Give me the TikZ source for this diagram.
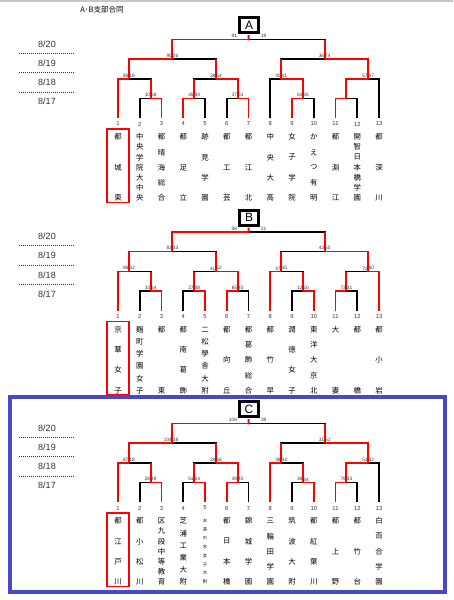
\documentclass[tikz,border=0pt]{standalone}
\usepackage{fontspec}
\setmainfont{Liberation Sans}
\newfontfamily\jp{Noto Sans CJK JP}
\usetikzlibrary{calc}
\definecolor{wred}{HTML}{FF0000}
\definecolor{ink}{HTML}{333333}
\definecolor{rim}{HTML}{4848CC}
\tikzset{lose/.style={draw=black, line width=1.9pt},
         win/.style={draw=wred, line width=1.9pt},
         score/.style={font=\fontsize{4.8}{5}\selectfont, text=ink, inner sep=0.3pt, yshift=1pt},
         tnum/.style={font=\fontsize{5.8}{6}\selectfont, text=ink, inner sep=0pt},
         tname/.style={font=\jp\fontsize{7.4}{7.4}\selectfont, inner sep=0pt},
         day/.style={font=\fontsize{9}{10}\selectfont, text=ink, inner sep=0pt},
         dayline/.style={draw=ink, line width=0.8pt, dash pattern=on 1.4pt off 0.6pt},
         lbox/.style={draw, line width=3pt, fill=white, minimum width=19pt, minimum height=15pt, inner sep=0pt, font=\fontsize{12}{12}\selectfont}}
\newcommand\sm{\fontsize{4.4}{5}\selectfont}

% #1 block, #2 shift, #3 red edges, #4 scores, #5 names, #6/#7 final score
\newcommand\bracket[7]{%
\begin{scope}[shift={(0,#2)}]
% dates
\foreach \d [count=\k] in {20,19,18,17} \node[day] (#1-day\k) at (47,{44+19.2*(\k-1)}) {8/\d};
\foreach \k in {1,2,3} \draw[dayline] (19,{53.3+19.5*(\k-1)}) -- (75,{53.3+19.5*(\k-1)});
% teams and matches
\foreach \i in {1,...,13} \coordinate (#1-t\i) at ({118+21.75*(\i-1)},118);
\foreach \m/\px/\py in {r23/150.6/98.5, r45/194.1/98.5, r67/237.6/98.5, r910/302.9/98.5, r1112/346.4/98.5,
  q1/128.9/79, q2/215.9/79, q3/281.1/79, q4/368.1/79, s1/172.4/59, s2/324.6/59, f/248.5/39.5}
  \coordinate (#1-\m) at (\px,\py);
\foreach \c/\p in {t2/r23,t3/r23,t4/r45,t5/r45,t6/r67,t7/r67,t9/r910,t10/r910,t11/r1112,t12/r1112,
  t1/q1,r23/q1,r45/q2,r67/q2,t8/q3,r910/q3,r1112/q4,t13/q4,q1/s1,q2/s1,q3/s2,q4/s2,s1/f,s2/f}
  \draw[lose] (#1-\c) |- (#1-\p);
\foreach \c/\p in {#3} \draw[win] (#1-\c) |- (#1-\p);
\foreach \c/\p in {r23/q1,r45/q2,r67/q2,r910/q3,r1112/q4,q1/s1,q2/s1,q3/s2,q4/s2,s1/f,s2/f}
  \draw[win] (#1-\c) -- (#1-\c |- #1-\p);
\node[lbox] (#1-box) at (249,25) {#1};
\draw[win, shorten <=-0.9pt, shorten >=1.2pt] (#1-f) -- (#1-box);
% scores
\foreach \m/\a/\b in {#4} {\node[score, anchor=south east] (#1-\m-a) at (#1-\m) {\a};
  \node[score, anchor=south west] (#1-\m-b) at (#1-\m) {\b};}
\node[score, anchor=south east] (#1-f-a) at ($(#1-f)+(-11,0)$) {#6};
\node[score, anchor=south west] (#1-f-b) at ($(#1-f)+(12,0)$) {#7};
% names
\foreach \i/\k/\s in {#5} {\node[tnum] (#1-num\i) at ({118+21.75*(\i-1)},124) {\i};
  \foreach \ch [count=\j] in \s
    \node[tname] (#1-n\i-\j) at ({118+21.75*(\i-1)},{137+61*(\j-1)/(\k-1)}) {\ch};}
\draw[win, line width=1.8pt] (107,129) rectangle (129,202.5);
\end{scope}}

\begin{document}
\begin{tikzpicture}[x=1pt, y=-1pt]
\useasboundingbox (0,0) rectangle (453,600);
% page edge and title
\draw[gray!45, line width=1.5pt] (0,0.8) -- (453,0.8);
\node[font=\jp\fontsize{7.5}{8}\selectfont] (title) at (102,10) {A･B支部合同};
% block A
\bracket{A}{0}{t3/r23,t4/r45,t7/r67,t9/r910,t11/r1112,t1/q1,r67/q2,r910/q3,r1112/q4,q1/s1,q4/s2,s1/f}
 {r23/10/68, r45/45/34, r67/37/53, r910/54/35, q1/88/19, q2/39/54, q3/40/41, q4/57/47, s1/90/26, s2/36/74}
 {1/3/{都,城,東}, 2/7/{中,央,学,院,大,中,央}, 3/5/{都,晴,海,総,合}, 4/3/{都,足,立}, 5/4/{跡,見,学,園},
  6/3/{都,工,芸}, 7/3/{都,江,北}, 8/4/{中,央,大,高}, 9/4/{女,子,学,院}, 10/5/{か,え,つ,有,明},
  11/3/{都,淵,江}, 12/7/{開,智,日,本,橋,学,園}, 13/3/{都,深,川}}{91}{19}
% block B
\bracket{B}{192.5}{t3/r23,t5/r45,t6/r67,t10/r910,t11/r1112,t1/q1,r67/q2,t8/q3,t13/q4,q1/s1,q4/s2,s1/f}
 {r23/33/64, r45/27/48, r67/65/40, r910/12/50, r1112/73/31, q1/98/32, q2/41/52, q3/47/45, q4/72/80, s1/83/33, s2/43/50}
 {1/4/{京,華,女,子}, 2/6/{麹,町,学,園,女,子}, 3/2/{都,東}, 4/4/{都,南,葛,飾}, 5/6/{二,松,學,舎,大,附},
  6/3/{都,向,丘}, 7/5/{都,葛,飾,総,合}, 8/3/{都,竹,早}, 9/4/{潤,徳,女,子}, 10/5/{東,洋,大,京,北},
  11/2/{大,妻}, 12/2/{都,橋}, 13/3/{都,小,岩}}{88}{21}
% block C
\bracket{C}{384}{t3/r23,t5/r45,t6/r67,t10/r910,t11/r1112,t1/q1,r67/q2,t8/q3,r1112/q4,q1/s1,q4/s2,s1/f}
 {r23/28/49, r45/51/54, r67/49/40, r910/38/44, r1112/78/33, q1/87/18, q2/28/56, q3/38/34, q4/51/32, s1/104/18, s2/31/51}
 {1/4/{都,江,戸,川}, 2/4/{都,小,松,川}, 3/7/{区,九,段,中,等,教,育}, 4/6/{芝,浦,工,業,大,附},
  5/8/{\sm お,\sm 茶,\sm の,\sm 水,\sm 女,\sm 子,\sm 大,\sm 附}, 6/4/{都,日,本,橋}, 7/4/{錦,城,学,園},
  8/5/{三,輪,田,学,園}, 9/4/{筑,波,大,附}, 10/4/{都,紅,葉,川}, 11/3/{都,上,野}, 12/3/{都,竹,台},
  13/5/{白,百,合,学,園}}{106}{39}
\draw[rim, line width=4pt] (9.5,396.5) rectangle (445,592);
\end{tikzpicture}
\end{document}
